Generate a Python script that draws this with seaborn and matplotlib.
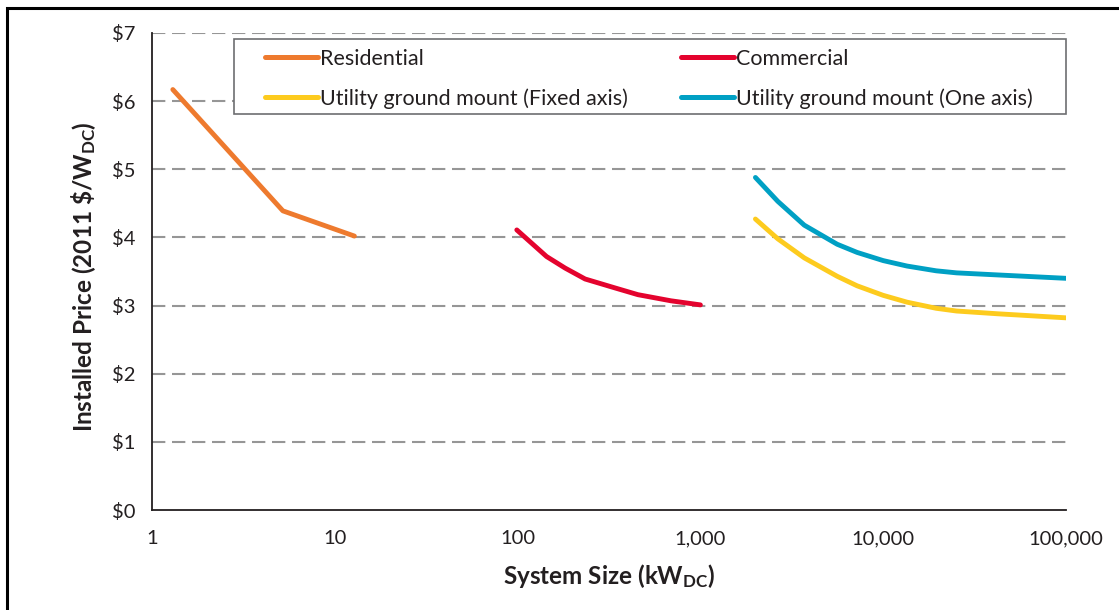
import numpy as np
import pandas as pd
import matplotlib
matplotlib.use("Agg")
import matplotlib.pyplot as plt
from matplotlib.patches import Rectangle
from matplotlib.lines import Line2D
import seaborn as sns

# ---- data ----
series_names = ["Residential", "Commercial",
                "Utility ground mount (Fixed axis)", "Utility ground mount (One axis)"]

res_x = [1.3, 5.2, 12.8]
res_y = [6.17, 4.39, 4.02]

com_x = [99, 144, 182, 234, 340, 455, 690, 1000]
com_y = [4.11, 3.72, 3.55, 3.39, 3.26, 3.16, 3.07, 3.01]

fix_x = [2000, 2650, 3700, 5600, 7200, 10000, 13500, 19500, 25200, 42000, 100000]
fix_y = [4.27, 3.98, 3.70, 3.43, 3.29, 3.15, 3.05, 2.96, 2.92, 2.88, 2.82]

one_x = [2000, 2650, 3700, 5600, 7200, 10000, 13500, 19500, 25200, 42000, 100000]
one_y = [4.88, 4.53, 4.18, 3.90, 3.78, 3.66, 3.58, 3.51, 3.48, 3.45, 3.40]

x_ticks = [1, 10, 100, 1000, 10000, 100000]
x_tick_labels = ["1", "10", "100", "1,000", "10,000", "100,000"]
y_ticks = [0, 1, 2, 3, 4, 5, 6, 7]
y_tick_labels = ["$0", "$1", "$2", "$3", "$4", "$5", "$6", "$7"]

colors = {
    "Residential": "#EE7A2E",
    "Commercial": "#E4032E",
    "Utility ground mount (Fixed axis)": "#FDCB1E",
    "Utility ground mount (One axis)": "#00A0C4",
}

frames = []
for name, xs, ys in zip(series_names, [res_x, com_x, fix_x, one_x], [res_y, com_y, fix_y, one_y]):
    frames.append(pd.DataFrame({"size": xs, "price": ys, "series": name}))
df = pd.concat(frames, ignore_index=True)

# ---- style ----
sns.set_theme(style="white")
plt.rcParams["font.family"] = ["Lato", "DejaVu Sans"]
plt.rcParams["mathtext.fontset"] = "custom"
plt.rcParams["mathtext.rm"] = "Lato"
plt.rcParams["mathtext.bf"] = "Lato:bold"
plt.rcParams["mathtext.it"] = "Lato:italic"
text_color = "#231F20"

W, H = 1119, 610
fig = plt.figure(figsize=(W / 100, H / 100), dpi=100)
ax = fig.add_axes([152 / W, 1 - 510 / H, (1066 - 152) / W, (510 - 33) / H])

sns.lineplot(data=df, x="size", y="price", hue="series", hue_order=series_names,
             palette=colors, linewidth=3.5, legend=False, ax=ax, sort=True,
             estimator=None, solid_capstyle="round", solid_joinstyle="round")

ax.set_xscale("log")
ax.set_xlim(1, 100000)
ax.set_ylim(0, 7)
ax.set_xticks(x_ticks)
ax.set_xticklabels(x_tick_labels)
ax.xaxis.set_minor_locator(matplotlib.ticker.NullLocator())
ax.set_yticks(y_ticks)
ax.set_yticklabels(y_tick_labels)

for y in y_ticks[1:]:
    ax.axhline(y, color="#969696", lw=1.5, ls=(0, (6.4, 3.2)), zorder=0)

for s in ["top", "right"]:
    ax.spines[s].set_visible(False)
for s in ["left", "bottom"]:
    ax.spines[s].set_color(text_color)
    ax.spines[s].set_linewidth(1.3)

ax.tick_params(axis="both", which="major", direction="out", length=6, width=1.3,
               color=text_color, labelsize=14.5, labelcolor=text_color)
ax.tick_params(axis="x", pad=8.5)
ax.tick_params(axis="y", pad=6)

ax.set_xlabel(r"System Size (kW$_{\mathbf{DC}}$)", fontsize=17.5, fontweight="bold",
              color=text_color)
ax.set_ylabel(r"Installed Price (2011 \$/W$_{\mathbf{DC}}$)", fontsize=17.5, fontweight="bold",
              color=text_color)
ax.xaxis.set_label_coords(0.5, (510 - 562) / 477)
ax.yaxis.set_label_coords((98 - 152) / 914, 0.49)

handles = [Line2D([0], [0], color=colors[n], lw=3.6, solid_capstyle="round") for n in series_names]
order = [0, 2, 1, 3]
leg = ax.legend([handles[i] for i in order], [series_names[i] for i in order],
                ncol=2, loc="upper left",
                bbox_to_anchor=((265 - 152) / 914, (510 - 49.5) / 477, (1033 - 265) / 914, 0.001),
                mode="expand", frameon=False, fontsize=15.5,
                handlelength=2.45, handletextpad=0.12, labelspacing=0.88,
                borderpad=0.0, borderaxespad=0)
for t in leg.get_texts():
    t.set_color(text_color)

# legend frame box
ax.add_patch(Rectangle(((234 - 152) / 914, (510 - 114) / 477), (1066 - 234) / 914, 75 / 477,
                       transform=ax.transAxes, fill=True, facecolor="white",
                       edgecolor="#6D6E71", linewidth=1.2, zorder=4, clip_on=False))
leg.set_zorder(5)

fig.patches.append(Rectangle((7 / W, -0.1), 1.2, 1 - 8 / H + 0.1, transform=fig.transFigure,
                             fill=False, edgecolor="black", linewidth=2.2))

fig.savefig("out.png", dpi=100)
